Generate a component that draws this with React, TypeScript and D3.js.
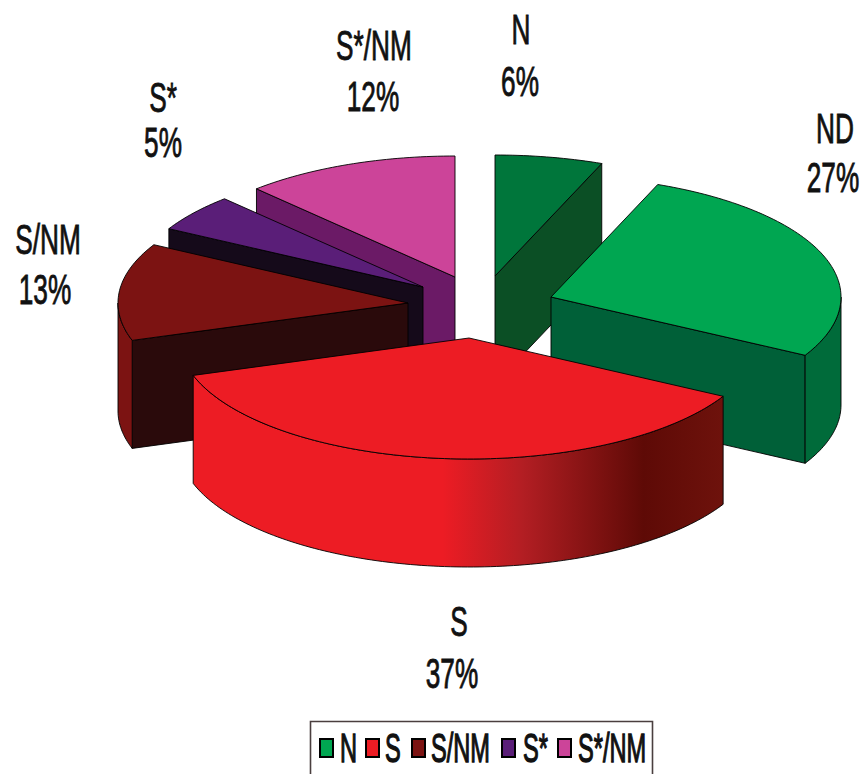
import React from "react";
import * as d3 from "d3";

const categories = ["N", "ND", "S", "S/NM", "S*", "S*/NM"];
const percents = [6, 27, 37, 13, 5, 12];
const legendItems = ["N", "S", "S/NM", "S*", "S*/NM"];

const W = 861, H = 774, RX = 290, RY = 121, DEPTH = 108;
const apex: [number, number][] = [[495, 276], [551, 297], [469, 338], [408, 303], [423, 287], [455, 277]];
const topCol = ["#00763b", "#00a651", "#ed1c24", "#7c1312", "#5a1e78", "#cc4499"];
const wallCol = ["#0b4f25", "#006038", "#ed1c24", "#2a0a0b", "#150a1a", "#6b1a66"];
const arcCol = ["#0b4f25", "#006b3a", "url(#redArc)", "#7c1312", "#150a1a", "#6b1a66"];
const drawOrder = [5, 4, 3, 0, 1, 2];
const labelPos: { x: number; y: number }[][] = [
  [{ x: 521, y: 44 }, { x: 520, y: 96 }],
  [{ x: 835, y: 143 }, { x: 833, y: 192 }],
  [{ x: 459, y: 636 }, { x: 452, y: 688 }],
  [{ x: 48, y: 254 }, { x: 45, y: 304 }],
  [{ x: 163, y: 112 }, { x: 163, y: 157 }],
  [{ x: 374, y: 60 }, { x: 373, y: 111 }],
];
const legendSwatchX = [320, 366, 412, 502, 558];
const legendTextX = [340, 385, 431, 523, 578];
const legendCol = ["#00a651", "#ed1c24", "#7c1312", "#5a1e78", "#cc4499"];

const pie = d3.pie<number>().sort(null).value((d) => d)(percents);

function pt(i: number, a: number, dy = 0): [number, number] {
  return [apex[i][0] + RX * Math.sin(a), apex[i][1] - RY * Math.cos(a) + dy];
}
const line = d3.line();
function arcPts(i: number, a0: number, a1: number, dy = 0) {
  const n = Math.max(2, Math.ceil((a1 - a0) / 0.02));
  return d3.range(n + 1).map((k) => pt(i, a0 + ((a1 - a0) * k) / n, dy));
}

function Txt({ x, y, s, size = 43, k = 0.61, sw = 0.9, anchor = "middle" }: any) {
  return (
    <text
      transform={`translate(${x},${y}) scale(${k},1)`}
      textAnchor={anchor}
      fontFamily="'Liberation Sans', Arial, sans-serif"
      fontSize={size}
      fill="#111"
      stroke="#111"
      strokeWidth={sw}
    >
      {s}
    </text>
  );
}

export default function App() {
  return (
    <svg width={W} height={H} viewBox={`0 0 ${W} ${H}`} style={{ position: "absolute", left: 0, top: 0, display: "block", background: "#fff" }}>
      <defs>
        <linearGradient id="redArc" gradientUnits="userSpaceOnUse" x1={194} x2={723} y1={0} y2={0}>
          <stop offset="0.47" stopColor="#ed1c24" />
          <stop offset="0.62" stopColor="#b31e23" />
          <stop offset="0.85" stopColor="#5e0a06" />
          <stop offset="1" stopColor="#6e120c" />
        </linearGradient>
      </defs>
      {drawOrder.map((i) => {
        const { startAngle: a0, endAngle: a1 } = pie[i];
        const c = apex[i];
        const wall = (a: number) =>
          line([c, pt(i, a), pt(i, a, DEPTH), [c[0], c[1] + DEPTH]]) + "Z";
        const from = Math.max(a0, Math.PI / 2);
        const to = Math.min(a1, (3 * Math.PI) / 2);
        return (
          <g key={categories[i]} stroke="#000" strokeWidth={0.9} strokeLinejoin="round">
            {Math.sin(a0) < -0.001 && <path d={wall(a0)} fill={wallCol[i]} />}
            {Math.sin(a1) > 0.001 && <path d={wall(a1)} fill={wallCol[i]} />}
            {to > from && (
              <path
                d={line([...arcPts(i, from, to), ...arcPts(i, from, to, DEPTH).reverse()]) + "Z"}
                fill={arcCol[i]}
              />
            )}
            <path d={line([c, ...arcPts(i, a0, a1)]) + "Z"} fill={topCol[i]} />
          </g>
        );
      })}
      {categories.map((cat, i) => (
        <g key={cat}>
          <Txt x={labelPos[i][0].x} y={labelPos[i][0].y} s={cat} />
          <Txt x={labelPos[i][1].x} y={labelPos[i][1].y} s={`${percents[i]}%`} />
        </g>
      ))}
      <path d="M310.5,774V721.5H652.5V774" fill="none" stroke="#4a3f3f" strokeWidth={1.6} />
      {legendItems.map((l, i) => (
        <g key={l}>
          <rect x={legendSwatchX[i]} y={739} width={13} height={18} fill={legendCol[i]} stroke="#000" strokeWidth={2} />
          <Txt x={legendTextX[i]} y={762} s={l} size={40} k={0.59} sw={1.3} anchor="start" />
        </g>
      ))}
    </svg>
  );
}
